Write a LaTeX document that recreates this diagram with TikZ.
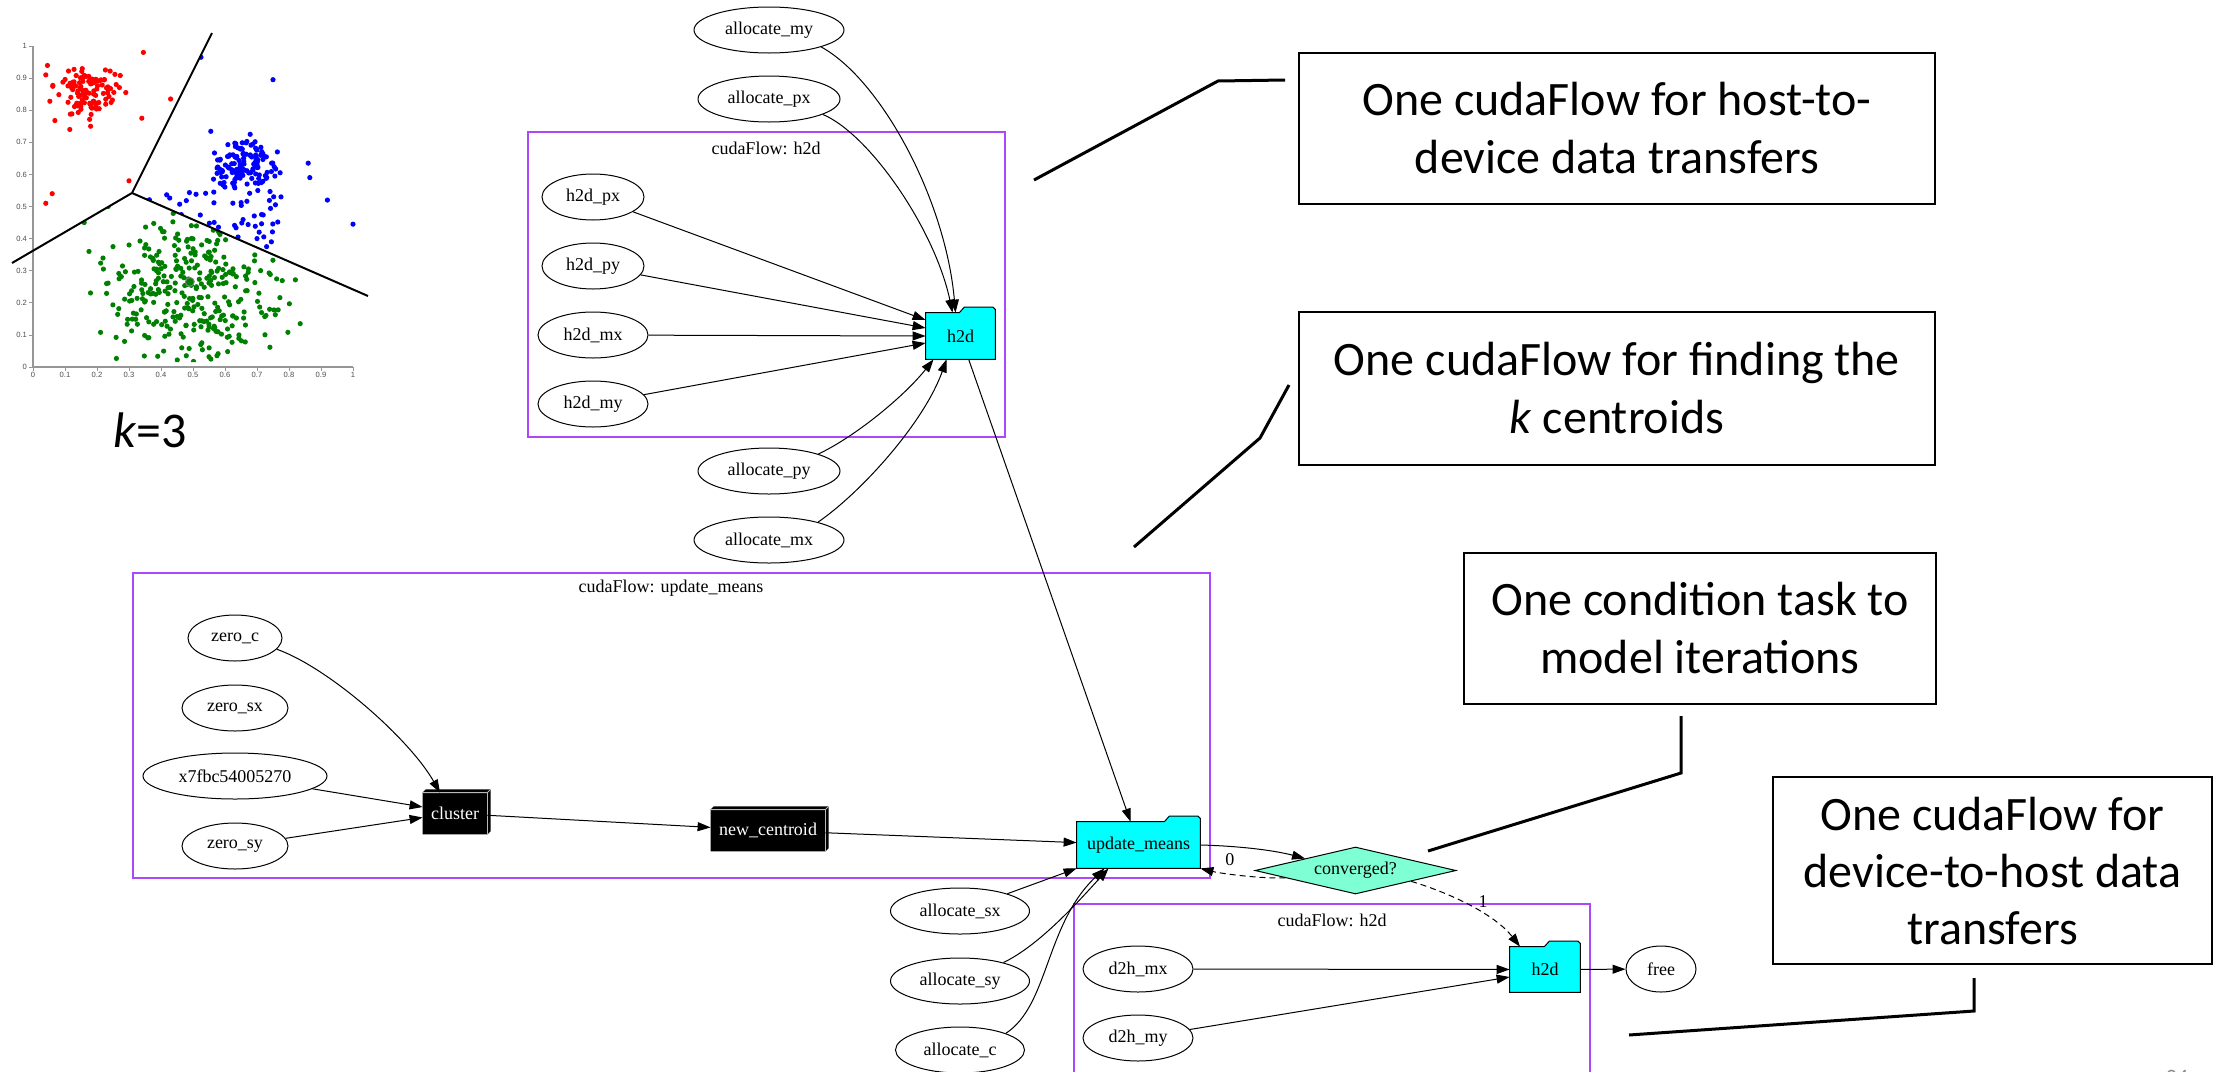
\documentclass[tikz,border=0pt]{standalone}
\usepackage{fontspec}
\setmainfont{Liberation Serif}
\newfontfamily\calibri{Carlito}
\newfontfamily\axisfont{Liberation Sans}
\usetikzlibrary{arrows.meta,shapes.geometric,backgrounds,calc}

\definecolor{flowpurple}{RGB}{172,72,250}
\definecolor{taskcyan}{RGB}{0,255,255}
\definecolor{condgreen}{RGB}{127,255,212}
\definecolor{dotred}{RGB}{255,0,0}
\definecolor{dotblue}{RGB}{0,0,255}
\definecolor{dotgreen}{RGB}{0,128,0}
\definecolor{axisgray}{RGB}{150,150,150}
\definecolor{pagegray}{RGB}{140,140,140}

\tikzset{
  gnode/.style={font=\fontsize{9}{10}\selectfont, inner sep=0pt},
  ell/.style={gnode, draw, ellipse, line width=0.5pt, minimum height=23pt},
  folder/.style={gnode, minimum height=23pt},
  blackbox/.style={gnode, fill=black, text=white, minimum height=20.5pt},
  edge/.style={line width=0.5pt, -{Triangle[length=6.5pt,width=4.5pt]}},
  condedge/.style={edge, dash pattern=on 3pt off 2pt},
  flowbox/.style={draw=flowpurple, line width=0.6pt},
  callout/.style={draw, line width=1pt, align=center, inner sep=0pt,
    font=\calibri\fontsize{24}{29}\selectfont},
  pointer/.style={line width=1.5pt},
  ticklabel/.style={font=\axisfont\fontsize{3.8}{4}\selectfont, text=black!70, inner sep=0.6pt},
  dot/.style={radius=1.3pt},
}

% folder outline (tab on the upper right) behind a task node
\newcommand\folderoutline[1]{%
  \begin{pgfonlayer}{background}
    \draw[line width=0.5pt, fill=taskcyan]
      (#1.south west) -- (#1.north west) -- ([xshift=-18pt]#1.north east)
      -- ++(2.5pt,2.8pt) -- ([xshift=-1.3pt,yshift=2.8pt]#1.north east)
      -- ([yshift=1.5pt]#1.north east) -- (#1.south east) -- cycle;
  \end{pgfonlayer}}

% three-dimensional black box behind a kernel node
\newcommand\boxthreedoutline[1]{%
  \begin{pgfonlayer}{background}
    \fill (#1.south west) -- (#1.north west) -- ++(1.6pt,1.6pt)
      -- ([shift={(1.6pt,1.6pt)}]#1.north east)
      -- ([shift={(1.6pt,1.6pt)}]#1.south east) -- (#1.south east) -- cycle;
  \end{pgfonlayer}
  \draw[gray!55, line width=0.4pt] (#1.north west) -- (#1.north east) -- (#1.south east)
    (#1.north east) -- ++(1.6pt,1.6pt);}

\begin{document}
\begin{tikzpicture}[x=0.5pt,y=-0.5pt]
\begin{pgfonlayer}{background}
  \fill[white] (0,0) rectangle (2226,1071);
\end{pgfonlayer}
\useasboundingbox (0,0) rectangle (2226,1071);

% ---------------- k-means scatter plot ----------------
\begin{scope}[shift={(33,367)}, x=160pt, y=160.5pt]
  \draw[axisgray, line width=0.6pt] (0,1) -- (0,0) -- (1,0);
  \foreach \v in {0,0.1,0.2,0.3,0.4,0.5,0.6,0.7,0.8,0.9,1}{
    \draw[axisgray, line width=0.4pt] (\v,0) -- (\v,-0.012);
    \draw[axisgray, line width=0.4pt] (0,\v) -- (-0.012,\v);
    \node[ticklabel, anchor=north] at (\v,-0.012) {\v};
    \node[ticklabel, anchor=east] at (-0.014,\v) {\v};
  }
  \pgfmathsetseed{2024}
  % red cluster
  \foreach \i in {1,...,115}{
    \pgfmathsetmacro\px{0.165+0.045*(rand+rand+rand)}
    \pgfmathsetmacro\py{0.855+0.036*(rand+rand+rand)}
    \fill[dotred] (\px,\py) circle[dot];}
  \foreach \p in {(0.04,0.91),(0.345,0.98),(0.43,0.835),(0.34,0.775),(0.29,0.855),
                  (0.26,0.88),(0.06,0.54),(0.04,0.51),(0.30,0.58),(0.115,0.74),(0.18,0.75)}
    \fill[dotred] \p circle[dot];
  % blue cluster
  \begin{scope}
    \clip (0.308,0.543) -- (0.558,1.04) -- (1.1,1.04) -- (1.1,0.199) -- cycle;
    \foreach \i in {1,...,140}{
      \pgfmathsetmacro\px{0.655+0.05*(rand+rand+rand)}
      \pgfmathsetmacro\py{0.63+0.04*(rand+rand+rand)}
      \fill[dotblue] (\px,\py) circle[dot];}
    \foreach \i in {1,...,60}{
      \pgfmathsetmacro\px{0.35+0.42*rnd}
      \pgfmathsetmacro\py{0.37+0.18*rnd}
      \fill[dotblue] (\px,\py) circle[dot];}
    \foreach \p in {(0.525,0.965),(0.75,0.895),(0.86,0.635),(0.865,0.59),(0.92,0.52),
                    (1.0,0.445),(0.775,0.53),(0.745,0.39),(0.73,0.375),(0.70,0.40)}
      \fill[dotblue] \p circle[dot];
  \end{scope}
  % green cluster
  \begin{scope}
    \clip (0.308,0.543) -- (-0.07,0.32) -- (-0.07,0.015) -- (1.1,0.015) -- (1.1,0.199) -- cycle;
    \foreach \i in {1,...,330}{
      \pgfmathsetmacro\px{0.5+0.17*(rand+rand)}
      \pgfmathsetmacro\py{0.25+0.13*(rand+rand)}
      \fill[dotgreen] (\px,\py) circle[dot];}
    \foreach \p in {(0.16,0.45),(0.175,0.36),(0.835,0.135),(0.235,0.5),(0.25,0.375),
                    (0.22,0.305),(0.23,0.26)}
      \fill[dotgreen] \p circle[dot];
  \end{scope}
  \draw[gray, line width=0.5pt] (0.49,0.265) circle[radius=2.2pt];
\end{scope}
% Voronoi borders between the three clusters
\coordinate (vc) at (132,193);
\coordinate (vtop) at (212,33);
\coordinate (vleft) at (12,263);
\coordinate (vright) at (368,296);
\draw[line width=1pt] (vc) -- (vtop) (vc) -- (vleft) (vc) -- (vright);
\node[font=\calibri\fontsize{25}{30}\selectfont, anchor=base, inner sep=0pt] (kval) at (150,447) {\textit{k}=3};

% ---------------- cudaFlow clusters ----------------
\draw[flowbox] (528,132) rectangle (1005,437);
\node[gnode] (lblh2d) at (766,148) {cudaFlow: h2d};
\draw[flowbox] (133,573) rectangle (1210,878);
\node[gnode] (lblum) at (671,588) {cudaFlow: update\_means};
\draw[flowbox] (1074,904) rectangle (1590,1078);
\node[gnode] (lbld2h) at (1332,920) {cudaFlow: h2d};

% ---------------- tasks ----------------
\node[ell, minimum width=75pt] (amy) at (769,30) {allocate\_my};
\node[ell, minimum width=71pt] (apx) at (769,99) {allocate\_px};
\node[ell, minimum width=51pt] (hpx) at (593,197) {h2d\_px};
\node[ell, minimum width=51pt] (hpy) at (593,266) {h2d\_py};
\node[ell, minimum width=55pt] (hmx) at (593,335) {h2d\_mx};
\node[ell, minimum width=55pt] (hmy) at (593,404) {h2d\_my};
\node[ell, minimum width=71pt] (apy) at (769,471) {allocate\_py};
\node[ell, minimum width=75pt] (amx) at (769,540) {allocate\_mx};

\node[folder, minimum width=34.5pt] (h2dA) at (960.5,336) {h2d};
\folderoutline{h2dA}

\node[ell, minimum width=47pt] (zc) at (235,638) {zero\_c};
\node[ell, minimum width=53pt] (zsx) at (235,708) {zero\_sx};
\node[ell, minimum width=92pt] (x7f) at (235,776) {x7fbc54005270};
\node[ell, minimum width=53pt] (zsy) at (235,846) {zero\_sy};

\node[blackbox, minimum width=32pt] (clus) at (455,813.5) {cluster};
\boxthreedoutline{clus}
\node[blackbox, minimum width=57pt] (newc) at (768,830.5) {new\_centroid};
\boxthreedoutline{newc}

\node[folder, minimum width=61.5pt] (um) at (1138.5,845) {update\_means};
\folderoutline{um}

\node[ell, minimum width=69.5pt] (asx) at (960,911) {allocate\_sx};
\node[ell, minimum width=69.5pt] (asy) at (960,981) {allocate\_sy};
\node[ell, minimum width=64.5pt] (ac) at (960,1050) {allocate\_c};

\node[gnode, draw, diamond, fill=condgreen, shape aspect=4.3, line width=0.5pt,
      minimum width=100.5pt, minimum height=23.5pt] (conv) at (1355.5,870.5) {converged?};

\node[ell, minimum width=55pt] (dmx) at (1138,969) {d2h\_mx};
\node[ell, minimum width=55pt] (dmy) at (1138,1038) {d2h\_my};
\node[folder, minimum width=35pt, minimum height=22.5pt] (h2dB) at (1545,969.5) {h2d};
\folderoutline{h2dB}
\node[ell, minimum width=35pt] (free) at (1661,969) {free};

% ---------------- dependencies ----------------
\draw[edge] (amy.-18) .. controls +(60,33) and +(-10,-113) .. ([xshift=-2.5pt]h2dA.north);
\draw[edge] (apx.-16) .. controls +(47,20) and +(-17.5,-83) .. ([xshift=-4pt]h2dA.north);
\draw[edge] (hpx) -- ([yshift=8pt]h2dA.west);
\draw[edge] (hpy) -- ([yshift=4pt]h2dA.west);
\draw[edge] (hmx) -- (h2dA.west);
\draw[edge] (hmy) -- ([yshift=-3.5pt]h2dA.west);
\draw[edge] (apy.19) .. controls +(38,-18) and +(-28.5,36) .. ([xshift=-13.5pt]h2dA.south);
\draw[edge] (amx.20) .. controls +(46,-32) and +(-21.5,61) .. ([xshift=-7pt]h2dA.south);
\draw[edge] (h2dA) -- ([xshift=-4pt]um.north);

\draw[edge] (zc.-15) .. controls +(53,19) and +(-30,-53) .. ([xshift=-7.5pt]clus.north);
\draw[edge] (x7f) -- ([yshift=3.25pt]clus.west);
\draw[edge] (zsy) -- ([yshift=-2pt]clus.west);
\draw[edge] (clus) -- (newc);
\draw[edge] (newc) -- (um);
\draw[edge] (asx) -- (um.south west);
\draw[edge] (asy.23) .. controls +(35,-17) and +(-33.5,37) .. ([xshift=-15pt]um.south);
\draw[edge] (ac.20) .. controls +(43,-28) and +(-59.5,57) .. ([xshift=-17pt]um.south);

\draw[edge] (um.east) .. controls +(40,1) and +(-30,-8) .. (conv.north west);
\draw[condedge] (conv.186) .. controls +(-25,1) and +(20,5) .. (um.south east)
  node[gnode, pos=0.62, yshift=7pt] {0};
\draw[condedge] (conv.-11) .. controls +(40,12) and +(-25,-32) .. ([xshift=-12.5pt]h2dB.north)
  node[gnode, pos=0.5, xshift=6pt, yshift=2.5pt] {1};

\draw[edge] (dmx) -- (h2dB);
\draw[edge] (dmy) -- ([yshift=-3.75pt]h2dB.west);
\draw[edge] (h2dB) -- (free);

% ---------------- callouts ----------------
\node[callout, minimum width=318pt, minimum height=75.5pt] (noteA) at (1617,128.5)
  {One cudaFlow for host-to-\\device data transfers};
\node[callout, minimum width=318pt, minimum height=76.5pt] (noteB) at (1617,388.5)
  {One cudaFlow for finding the\\\textit{k} centroids};
\node[callout, minimum width=236pt, minimum height=75.5pt] (noteC) at (1700,628.5)
  {One condition task to\\model iterations};
\node[callout, minimum width=219.5pt, minimum height=93.5pt, font=\calibri\fontsize{24}{28.5}\selectfont]
  (noteD) at (1992.5,870.5) {One cudaFlow for\\device-to-host data\\transfers};

\coordinate (pa1) at (1034,180);
\coordinate (pa2) at (1218,81);
\coordinate (pa3) at (1285,80);
\draw[pointer] (pa1) -- (pa2) -- (pa3);
\coordinate (pb1) at (1134,547);
\coordinate (pb2) at (1260,438);
\coordinate (pb3) at (1289,385);
\draw[pointer] (pb1) -- (pb2) -- (pb3);
\coordinate (pc1) at (1428,851);
\coordinate (pc2) at (1681,773);
\coordinate (pc3) at (1681,716);
\draw[pointer] (pc1) -- (pc2) -- (pc3);
\coordinate (pd1) at (1629,1035);
\coordinate (pd2) at (1974,1011);
\coordinate (pd3) at (1974,978);
\draw[pointer] (pd1) -- (pd2) -- (pd3);

% slide number, cut by the lower edge
\begin{scope}
  \clip (0,0) rectangle (2226,1071);
  \node[font=\calibri\fontsize{11}{12}\selectfont, text=pagegray, anchor=base, inner sep=0pt]
    (pagenum) at (2177,1084) {24};
\end{scope}
\end{tikzpicture}
\end{document}
